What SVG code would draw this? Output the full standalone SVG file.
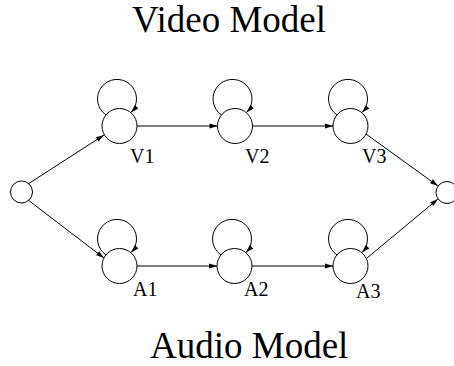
<svg xmlns="http://www.w3.org/2000/svg" width="454" height="366" viewBox="0 0 454 366">
<style>
.n{fill:#fff;stroke:#000;stroke-width:1}
.e{fill:none;stroke:#000;stroke-width:1;marker-end:url(#ah)}
.t{font-family:"Liberation Serif","Times New Roman",serif;fill:#000}
.lbl{font-size:20px}
.ttl{font-size:37px}
</style>
<defs>
<marker id="ah" markerUnits="userSpaceOnUse" markerWidth="9" markerHeight="6" refX="8" refY="2.5" orient="auto" overflow="visible">
<path d="M0,0 L8,2.5 L0,5 z" fill="#000"/>
</marker>
</defs>
<rect width="454" height="366" fill="#fff"/>
<g id="connectors">
<path class="e" d="M28,184 L104,135"/>
<path class="e" d="M28,200 L104,258"/>
<path class="e" d="M137,126 L217.5,126"/>
<path class="e" d="M252.5,126 L333,126"/>
<path class="e" d="M366,134 L438,186"/>
<path class="e" d="M137,266 L217,266"/>
<path class="e" d="M252,266 L333,266"/>
<path class="e" d="M367,258 L438,199"/>
<path class="e" d="M106,115 A19.5,19.5 0 1 1 131,112.5"/>
<path class="e" d="M221.5,115 A19.5,19.5 0 1 1 246.5,112.5"/>
<path class="e" d="M337,115 A19.5,19.5 0 1 1 362,112.5"/>
<path class="e" d="M106,255 A19.5,19.5 0 1 1 131,252.5"/>
<path class="e" d="M221,255 A19.5,19.5 0 1 1 246,252.5"/>
<path class="e" d="M337,255 A19.5,19.5 0 1 1 362,252.5"/>
</g>
<g id="start"><circle class="n" cx="21.5" cy="192" r="11"/></g>
<g id="V1"><circle class="n" cx="119.5" cy="126" r="17.5"/><text class="t lbl" x="130" y="163">V1</text></g>
<g id="V2"><circle class="n" cx="235" cy="126" r="17.5"/><text class="t lbl" x="245" y="163">V2</text></g>
<g id="V3"><circle class="n" cx="350.5" cy="126" r="17.5"/><text class="t lbl" x="362" y="163">V3</text></g>
<g id="end"><circle class="n" cx="447" cy="192.5" r="11"/></g>
<g id="A1"><circle class="n" cx="119.5" cy="266" r="17.5"/><text class="t lbl" x="133" y="296">A1</text></g>
<g id="A2"><circle class="n" cx="234.5" cy="266" r="17.5"/><text class="t lbl" x="244" y="296">A2</text></g>
<g id="A3"><circle class="n" cx="350.5" cy="266" r="17.5"/><text class="t lbl" x="356" y="298">A3</text></g>
<g id="titles">
<text class="t ttl" x="132" y="32">Video Model</text>
<text class="t ttl" x="150" y="358">Audio Model</text>
</g>
</svg>
